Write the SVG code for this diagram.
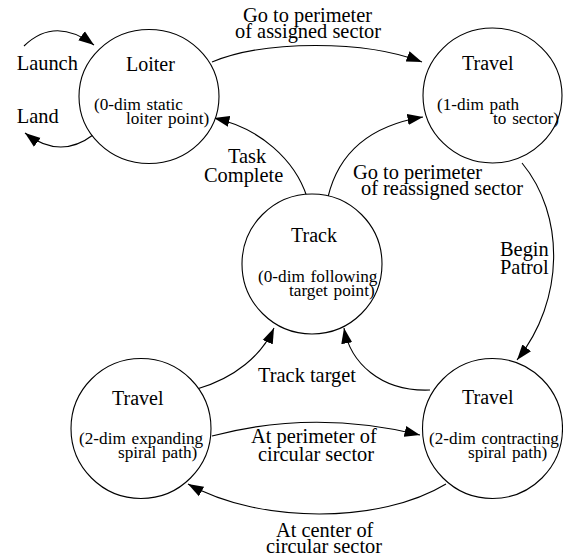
<svg xmlns="http://www.w3.org/2000/svg" width="563" height="558" viewBox="0 0 563 558">
  <style>
    .state { fill: #ffffff; stroke: #000000; stroke-width: 1.1; }
    .title { font-family: "Liberation Serif", "Times New Roman", serif; font-size: 20px; fill: #000; }
    .sub { font-family: "Liberation Serif", "Times New Roman", serif; font-size: 17.2px; word-spacing: 1.5px; fill: #000; }
    .lbl { font-family: "Liberation Serif", "Times New Roman", serif; font-size: 20.4px; fill: #000; }
    .edge { fill: none; stroke: #000000; stroke-width: 1.1; marker-end: url(#head); }
  </style>
  <defs>
    <marker id="head" markerUnits="userSpaceOnUse" viewBox="0 0 16 12" markerWidth="16" markerHeight="12" refX="15.5" refY="6" orient="auto">
      <path d="M0,0.5 L15.5,6 L0,11.5 Z" fill="#000"/>
    </marker>
  </defs>

  <rect width="563" height="558" fill="#ffffff"/>

  <!-- transitions -->
  <g id="connectors">
    <path class="edge" d="M24,46 Q55,16 94,45"/>
    <path class="edge" d="M93,135 Q60,160 25,133"/>
    <path class="edge" d="M212,62 C265,40 365,40 422,62"/>
    <path class="edge" d="M307,197 C295,160 260,128 214,118"/>
    <path class="edge" d="M328,197 C338,155 368,126 423,117"/>
    <path class="edge" d="M522,163 C565,215 565,300 517,360"/>
    <path class="edge" d="M197,389 C235,378 262,355 274,328"/>
    <path class="edge" d="M430,390 C380,392 350,362 344,328"/>
    <path class="edge" d="M212,436 C280,418 350,418 420,435"/>
    <path class="edge" d="M446,484 C380,524 260,524 188,484"/>
  </g>

  <!-- transition labels -->
  <g id="edge-labels">
    <text class="lbl" x="16.7" y="70">Launch</text>
    <text class="lbl" x="16.7" y="123">Land</text>
    <text class="lbl" x="243" y="22">Go to perimeter</text>
    <text class="lbl" x="235" y="37.5">of assigned sector</text>
    <text class="lbl" x="228" y="163">Task</text>
    <text class="lbl" x="204" y="182">Complete</text>
    <text class="lbl" x="353" y="179">Go to perimeter</text>
    <text class="lbl" x="361" y="195">of reassigned sector</text>
    <text class="lbl" x="500" y="256">Begin</text>
    <text class="lbl" x="500" y="274">Patrol</text>
    <text class="lbl" x="258" y="381.5">Track target</text>
    <text class="lbl" x="251" y="443">At perimeter of</text>
    <text class="lbl" x="258" y="461">circular sector</text>
    <text class="lbl" x="276" y="537">At center of</text>
    <text class="lbl" x="266" y="553">circular sector</text>
  </g>

  <g id="loiter">
    <ellipse class="state" cx="149" cy="96.5" rx="70" ry="67"/>
    <text class="title" x="126" y="70.5">Loiter</text>
    <text class="sub" x="94" y="110">(0-dim static</text>
    <text class="sub" x="126" y="124">loiter point)</text>
  </g>

  <g id="travel-sector">
    <ellipse class="state" cx="492.5" cy="95.5" rx="69.5" ry="67.5"/>
    <text class="title" x="462" y="70">Travel</text>
    <text class="sub" x="437" y="110">(1-dim path</text>
    <text class="sub" x="493" y="124">to sector)</text>
  </g>

  <g id="track">
    <circle class="state" cx="312" cy="264" r="70"/>
    <text class="title" x="291" y="242">Track</text>
    <text class="sub" x="258" y="281.5">(0-dim following</text>
    <text class="sub" x="289" y="295.5">target point)</text>
  </g>

  <g id="travel-expanding">
    <circle class="state" cx="141" cy="428.5" r="70"/>
    <text class="title" x="112" y="405">Travel</text>
    <text class="sub" x="79" y="444">(2-dim expanding</text>
    <text class="sub" x="118" y="458">spiral path)</text>
  </g>

  <g id="travel-contracting">
    <circle class="state" cx="492.5" cy="428.5" r="70"/>
    <text class="title" x="462" y="404">Travel</text>
    <text class="sub" x="429" y="444">(2-dim contracting</text>
    <text class="sub" x="468" y="458">spiral path)</text>
  </g>
</svg>
